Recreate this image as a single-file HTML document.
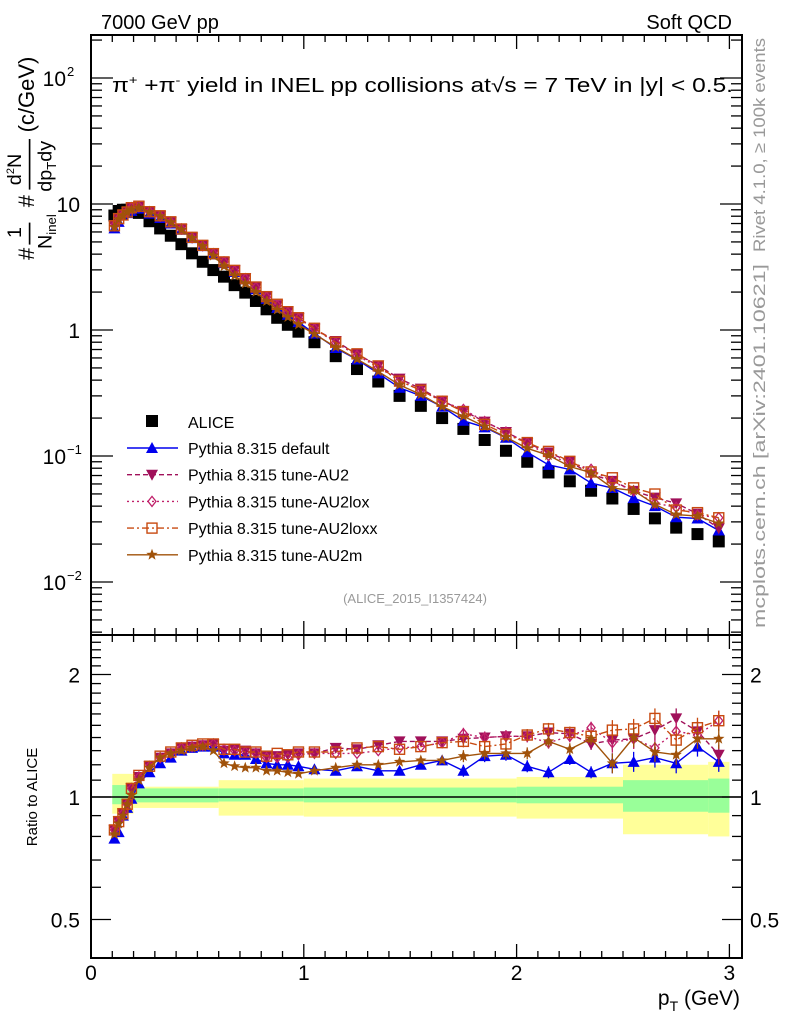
<!DOCTYPE html>
<html><head><meta charset="utf-8">
<style>
body{margin:0;background:#fff;}
svg{display:block;font-family:"Liberation Sans","DejaVu Sans",sans-serif;}
</style></head>
<body>
<svg id="chart" width="786" height="1024" viewBox="0 0 786 1024" xmlns="http://www.w3.org/2000/svg">
<rect x="0" y="0" width="786" height="1024" fill="#fff"/>
<g id="bands"></g>
<g id="grid"></g>
<g id="series"></g>
<g id="frames"></g>
<text x="101" y="29" font-size="20">7000 GeV pp</text>
<text x="732" y="29" font-size="20" text-anchor="end">Soft QCD</text>
<text x="112" y="92" font-size="20" textLength="621" lengthAdjust="spacingAndGlyphs">π<tspan font-size="12" dy="-8">+</tspan><tspan dy="8"> +π</tspan><tspan font-size="12" dy="-8">-</tspan><tspan dy="8"> yield in INEL pp collisions at√s =  7 TeV in |y| &lt; 0.5.</tspan></text>
<text x="415" y="603" font-size="13" fill="#999" text-anchor="middle">(ALICE_2015_I1357424)</text>
<text transform="translate(765,145) rotate(-90)" font-size="17" fill="#999" text-anchor="middle" textLength="214" lengthAdjust="spacingAndGlyphs">Rivet 4.1.0, ≥ 100k events</text>
<text transform="translate(765,446) rotate(-90)" font-size="17" fill="#999" text-anchor="middle" textLength="364" lengthAdjust="spacingAndGlyphs">mcplots.cern.ch [arXiv:2401.10621]</text>
<g transform="translate(34,150) rotate(-90) scale(1.1)" font-size="20">
<text x="-100" y="0" text-anchor="start">#</text>
<text x="-80" y="-12" font-size="18">1</text>
<line x1="-86" y1="-4" x2="-66" y2="-4" stroke="#000" stroke-width="1.5"/>
<text x="-90" y="16" font-size="18">N<tspan font-size="12" dy="4">inel</tspan></text>
<text x="-52" y="0">#</text>
<text x="-32" y="-12" font-size="18">d<tspan font-size="10" dy="-6">2</tspan><tspan dy="6">N</tspan></text>
<line x1="-36" y1="-4" x2="10" y2="-4" stroke="#000" stroke-width="1.5"/>
<text x="-38" y="16" font-size="18">dp<tspan font-size="12" dy="4">T</tspan><tspan dy="-4">dy</tspan></text>
<text x="16" y="0">(c/GeV)</text>
</g>
<text transform="translate(37,797) rotate(-90)" font-size="15" text-anchor="middle">Ratio to ALICE</text>
<text x="740" y="1005" font-size="21" text-anchor="end">p<tspan font-size="14" dy="6">T</tspan><tspan dy="-6"> (GeV)</tspan></text>
<g id="legend"></g>
</svg>
<script>
// ---- data ----
const ptBins = [0.11,0.13,0.15,0.17,0.19,0.225,0.275,0.325,0.375,0.425,0.475,0.525,0.575,0.625,0.675,0.725,0.775,0.825,0.875,0.925,0.975,1.05,1.15,1.25,1.35,1.45,1.55,1.65,1.75,1.85,1.95,2.05,2.15,2.25,2.35,2.45,2.55,2.65,2.75,2.85,2.95];
const aliceYield = [8.1,8.8,9.0,9.0,8.9,8.5,7.3,6.4,5.6,4.8,4.06,3.48,2.99,2.65,2.27,1.98,1.70,1.46,1.25,1.10,0.97,0.80,0.62,0.49,0.39,0.30,0.25,0.20,0.164,0.134,0.11,0.09,0.074,0.063,0.053,0.046,0.038,0.032,0.027,0.024,0.021];
const ratioDefault = [0.79,0.82,0.90,0.94,0.99,1.08,1.15,1.21,1.25,1.30,1.32,1.33,1.33,1.28,1.27,1.27,1.24,1.21,1.20,1.20,1.19,1.17,1.16,1.19,1.16,1.16,1.20,1.23,1.16,1.26,1.27,1.19,1.15,1.24,1.15,1.21,1.22,1.25,1.21,1.33,1.22];
const ratioAU2 = [0.83,0.87,0.91,0.96,1.05,1.12,1.19,1.25,1.28,1.32,1.33,1.34,1.35,1.30,1.31,1.30,1.28,1.26,1.26,1.27,1.28,1.28,1.32,1.31,1.34,1.37,1.37,1.37,1.39,1.40,1.41,1.41,1.44,1.43,1.35,1.38,1.39,1.46,1.56,1.45,1.27];
const ratioAU2lox = [0.83,0.87,0.91,0.96,1.05,1.12,1.19,1.25,1.28,1.32,1.33,1.34,1.35,1.31,1.30,1.29,1.28,1.25,1.25,1.25,1.27,1.28,1.28,1.28,1.30,1.32,1.33,1.36,1.43,1.40,1.41,1.41,1.36,1.41,1.48,1.36,1.39,1.32,1.45,1.42,1.54];
const ratioAU2loxx = [0.83,0.87,0.91,0.96,1.05,1.13,1.19,1.26,1.29,1.32,1.34,1.35,1.35,1.31,1.31,1.29,1.29,1.26,1.28,1.27,1.29,1.29,1.29,1.32,1.33,1.31,1.33,1.36,1.37,1.33,1.35,1.42,1.47,1.44,1.41,1.46,1.47,1.56,1.38,1.48,1.54];
const ratioAU2m = [0.81,0.86,0.90,0.96,1.01,1.10,1.18,1.25,1.28,1.30,1.32,1.33,1.30,1.21,1.19,1.18,1.18,1.16,1.16,1.15,1.14,1.16,1.18,1.20,1.20,1.22,1.23,1.23,1.26,1.28,1.28,1.28,1.37,1.31,1.39,1.21,1.40,1.29,1.27,1.39,1.39];
const bandEdges = [0.1,0.2,0.6,1.0,2.0,2.5,2.9,3.0];
const yellowHi = [1.14,1.06,1.10,1.11,1.12,1.20,1.22];
const yellowLo = [0.91,0.94,0.90,0.895,0.885,0.81,0.80];
const greenHi = [1.07,1.05,1.05,1.055,1.06,1.10,1.11];
const greenLo = [0.96,0.97,0.975,0.97,0.965,0.92,0.915];
const mainTicks = [{v:100,l:"10",s:"2"},{v:10,l:"10",s:""},{v:1,l:"1",s:""},{v:0.1,l:"10",s:"−1"},{v:0.01,l:"10",s:"−2"}];
const ratioTicks = [2,1,0.5];
const xTicks = [0,1,2,3];

// ---- axes ----
const X0=91, X1=742, MT=35, MB=635, RB=958;
const xs = v => 91 + v*212.8;
const ys = v => 330 - Math.log10(v)*126;
const yr = v => 797 - Math.log2(v)*122.5;
const NS="http://www.w3.org/2000/svg";
function el(tag, attrs, parent){const e=document.createElementNS(NS,tag);for(const k in attrs)e.setAttribute(k,attrs[k]);parent.appendChild(e);return e;}

const bands=document.getElementById('bands');
for(let i=0;i<bandEdges.length-1;i++){
  const x1=xs(bandEdges[i]), x2=xs(bandEdges[i+1]);
  const r1=el('rect',{x:x1,y:yr(yellowHi[i]),width:x2-x1,height:yr(yellowLo[i])-yr(yellowHi[i]),fill:'#ffff99'},bands);
  
  
  const r2=el('rect',{x:x1,y:yr(greenHi[i]),width:x2-x1,height:yr(greenLo[i])-yr(greenHi[i]),fill:'#99ff99'},bands);
  
  
}
const unity=el('line',{x1:X0,x2:X1,y1:yr(1),y2:yr(1),stroke:'#000','stroke-width':1.5},bands);



const fr=document.getElementById('frames');
const f1=el('rect',{x:X0,y:MT,width:X1-X0,height:MB-MT,fill:'none',stroke:'#000','stroke-width':2},fr);


const f2=el('rect',{x:X0,y:MB,width:X1-X0,height:RB-MB,fill:'none',stroke:'#000','stroke-width':2},fr);


function line(x1,y1,x2,y2,p){el('line',{x1,y1,x2,y2,stroke:'#000','stroke-width':1.3},p);}
for(let k=0;k<=30;k++){const v=k/10,x=xs(v);if(x>X1)break;const L=(k%10===0)?14:7;
  [MT,MB].forEach(t=>line(x,t,x,t+L,fr));[MB,RB].forEach(b=>line(x,b,x,b-L,fr));}
xTicks.forEach(v=>{const t=el('text',{x:xs(v),y:980,'font-size':21,'text-anchor':'middle'},fr);t.textContent=v;
  });
for(let d=-3;d<=2;d++){for(let m=1;m<=9;m++){const v=m*Math.pow(10,d),y=ys(v);if(y<MT||y>MB)continue;const L=m===1?22:11;
  line(X0,y,X0+L,y,fr);line(X1,y,X1-L,y,fr);}}
mainTicks.forEach(t=>{const tx=el('text',{x:t.s?66:80,y:ys(t.v)+8,'font-size':21,'text-anchor':'end'},fr);tx.textContent=t.l;
  
  if(t.s){const s=el('text',{x:67,y:ys(t.v)-2,'font-size':13},fr);s.textContent=t.s;}});
for(let k=4;k<=25;k++){const v=k/10,y=yr(v);if(y<MB||y>RB)continue;const L=(v===0.5||v===1||v===2)?20:10;
  line(X0,y,X0+L,y,fr);line(X1,y,X1-L,y,fr);}
ratioTicks.forEach(v=>{[[80,'end'],[750,'start']].forEach(([x,a])=>{const t=el('text',{x,y:yr(v)+8,'font-size':21,'text-anchor':a},fr);t.textContent=v;
  });});

function marker(kind,x,y,c,p){
  if(kind==='sq')return el('rect',{x:x-6,y:y-6,width:12,height:12,fill:'#000'},p);
  if(kind==='tri')return el('polygon',{points:`${x},${y-6} ${x-6},${y+5} ${x+6},${y+5}`,fill:c},p);
  if(kind==='itri')return el('polygon',{points:`${x},${y+6} ${x-6},${y-5} ${x+6},${y-5}`,fill:c},p);
  if(kind==='dia')return el('polygon',{points:`${x},${y-5} ${x-4},${y} ${x},${y+5} ${x+4},${y}`,fill:'none',stroke:c,'stroke-width':1.3},p);
  if(kind==='osq')return el('rect',{x:x-5,y:y-5,width:10,height:10,fill:'none',stroke:c,'stroke-width':1.4},p);
  if(kind==='star'){let pts=[];for(let i=0;i<10;i++){const r=i%2?2.5:6,a=-Math.PI/2+i*Math.PI/5;pts.push((x+r*Math.cos(a)).toFixed(1)+','+(y+r*Math.sin(a)).toFixed(1));}
    return el('polygon',{points:pts.join(' '),fill:c},p);}
}
const series=[
  {name:'Pythia 8.315 default',r:ratioDefault,c:'#0000ee',m:'tri',dash:'',id:'default'},
  {name:'Pythia 8.315 tune-AU2',r:ratioAU2,c:'#a0105a',m:'itri',dash:'5,3',id:'au2'},
  {name:'Pythia 8.315 tune-AU2lox',r:ratioAU2lox,c:'#c0206a',m:'dia',dash:'2,3',id:'au2lox'},
  {name:'Pythia 8.315 tune-AU2loxx',r:ratioAU2loxx,c:'#c84a10',m:'osq',dash:'7,3,2,3',id:'au2loxx'},
  {name:'Pythia 8.315 tune-AU2m',r:ratioAU2m,c:'#a0520a',m:'star',dash:'',id:'au2m'}];
const sg=document.getElementById('series');
const ag=el('g',{},sg);


ptBins.forEach((x,i)=>{const m=marker('sq',xs(x),ys(aliceYield[i]),'#000',ag);
  });
series.forEach(s=>{
  const g=el('g',{},sg);
  
  
  const mainPts=ptBins.map((x,i)=>xs(x).toFixed(1)+','+ys(aliceYield[i]*s.r[i]).toFixed(1)).join(' ');
  const ratPts=ptBins.map((x,i)=>xs(x).toFixed(1)+','+yr(s.r[i]).toFixed(1)).join(' ');
  el('polyline',{points:mainPts,fill:'none',stroke:s.c,'stroke-width':1.4,'stroke-dasharray':s.dash},g);
  el('polyline',{points:ratPts,fill:'none',stroke:s.c,'stroke-width':1.4,'stroke-dasharray':s.dash},g);
  ptBins.forEach((x,i)=>{
    const m1=marker(s.m,xs(x),ys(aliceYield[i]*s.r[i]),s.c,g);
    
    const yy=yr(s.r[i]);
    if(x>1.7){const e=x>2.4?10:6;el('line',{x1:xs(x),x2:xs(x),y1:yy-e,y2:yy+e,stroke:s.c,'stroke-width':1.3},g);}
    const m2=marker(s.m,xs(x),yy,s.c,g);
    
  });
});
const lg=document.getElementById('legend');


const a=el('g',{},lg);
marker('sq',152,421,'#000',a);
const at=el('text',{x:188,y:428,'font-size':16},a);at.textContent='ALICE';
series.forEach((s,i)=>{const y=448+i*26.7;const g=el('g',{},lg);
  
  el('line',{x1:127,x2:178,y1:y,y2:y,stroke:s.c,'stroke-width':1.4,'stroke-dasharray':s.dash},g);
  marker(s.m,152,y,s.c,g);
  const t=el('text',{x:188,y:y+6,'font-size':16},g);t.textContent=s.name;});
</script>
</body></html>
